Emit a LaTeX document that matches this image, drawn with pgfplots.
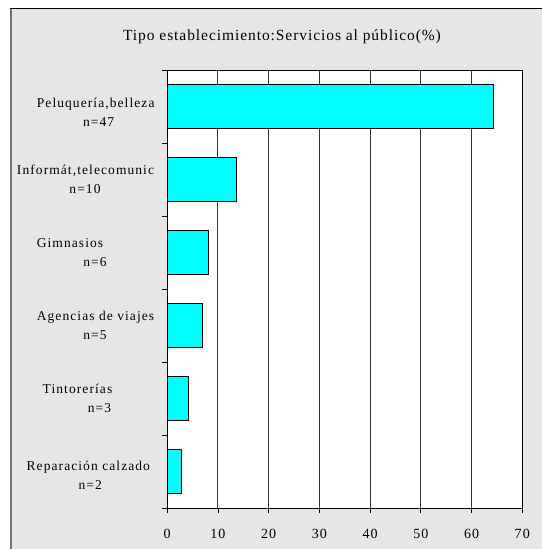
\documentclass[border=0pt]{standalone}
\usepackage{pgfplots}
\pgfplotsset{compat=1.18}
\usepackage{fontspec}
\setmainfont{Liberation Serif}
\newfontfamily\labfont[LetterSpace=8]{Liberation Serif}
\newfontfamily\titfont[LetterSpace=6]{Liberation Serif}
\definecolor{aqua}{RGB}{0,255,255}
\definecolor{bgpat}{RGB}{230,230,230}
\newcommand\lab[5][0]{\raisebox{0pt}[\dimexpr\height+#1bp+#1bp\relax][\depth]{\parbox{150bp}{\labfont\fontsize{13.5bp}{19bp}\selectfont\hspace*{\dimexpr #2bp-5bp\relax}\makebox[0pt]{#3}\\\hspace*{\dimexpr #4bp-5bp\relax}\makebox[0pt]{#5}}}}
\begin{document}
\begin{tikzpicture}
\path[use as bounding box] (0,0) rectangle (542bp,549bp);
\fill[bgpat] (10bp,0) rectangle (542bp,540.3bp);
\draw[black, line width=1bp] (10bp,540.3bp) -- (542bp,540.3bp);
\draw[black!55, line width=2bp] (11bp,0) -- (11bp,540.3bp);
\begin{axis}[
  at={(167.2bp,41bp)}, anchor=south west,
  width=355.1bp, height=438bp, scale only axis,
  xbar, bar width=0.595,
  xmin=0, xmax=70, ymin=0, ymax=6,
  axis background/.style={fill=white},
  xtick={0,10,...,70},
  ytick={0,...,6}, yticklabels={},
  extra y ticks={0.5,1.5,2.5,3.5,4.5,5.5},
  extra y tick labels={
    {\lab[3.5]{88.3}{Reparación calzado}{90.3}{n=2}},
    {\lab{77.5}{Tintorerías}{99.5}{n=3}},
    {\lab{95.5}{Agencias de viajes}{95}{n=5}},
    {\lab{70}{Gimnasios}{95}{n=6}},
    {\lab{85.5}{Informát,telecomunic}{85}{n=10}},
    {\lab[5.5]{95.7}{Peluquería,belleza}{98.7}{n=47}}},
  extra y tick style={major tick length=0pt, grid=none, yticklabel style={anchor=east, inner sep=0pt, xshift=-12bp}},
  tick align=outside, major tick length=5bp,
  xtick pos=bottom, ytick pos=left,
  tick style={black, line width=0.8bp},
  xmajorgrids, grid style={black!80, line width=0.9bp},
  axis line style={black, line width=0.9bp},
  xticklabel style={font=\labfont\fontsize{14bp}{16bp}\selectfont, yshift=-13bp},
  /pgf/number format/assume math mode=true,
]
\addplot[fill=aqua, draw=black, line width=0.8bp] coordinates {(64.38,5.5) (13.70,4.5) (8.22,3.5) (6.85,2.5) (4.11,1.5) (2.74,0.5)};
\end{axis}
\node[font=\titfont\fontsize{15.5bp}{18bp}\selectfont] at (282bp,512.7bp) {Tipo establecimiento:Servicios al público(\%)};
\end{tikzpicture}
\end{document}
